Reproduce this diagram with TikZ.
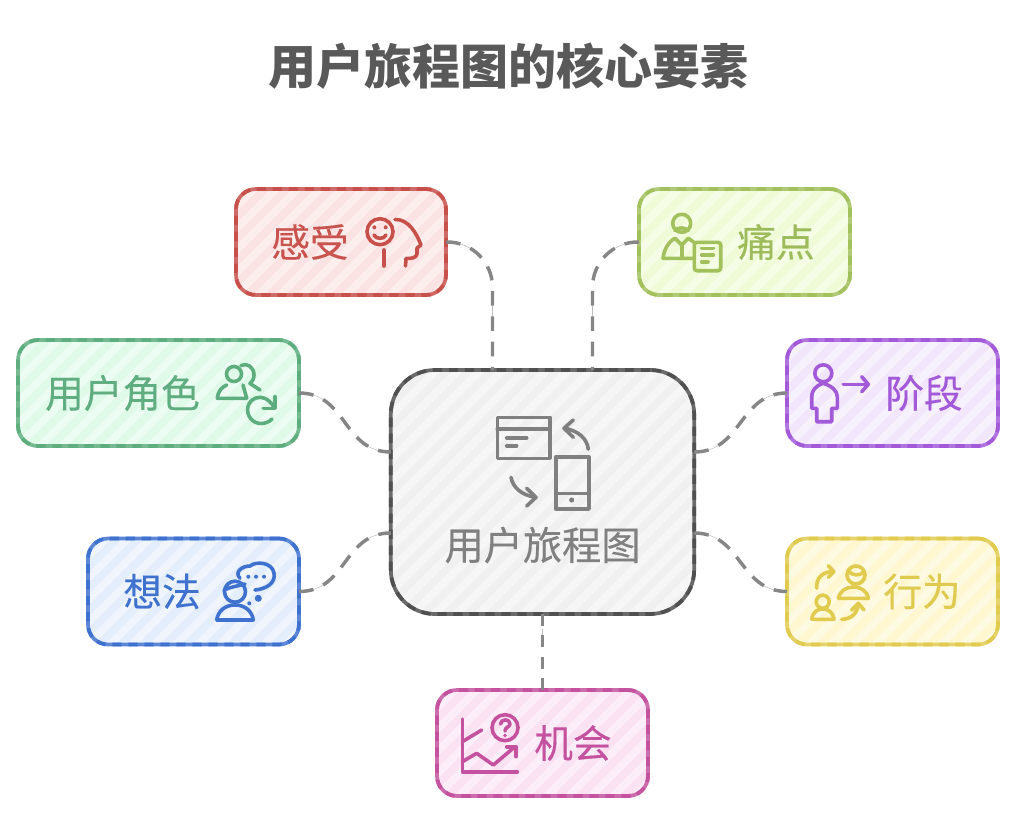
\documentclass[tikz,border=0pt]{standalone}
\usepackage{fontspec}
\newfontfamily\cjk{Noto Sans CJK SC}
\newfontfamily\cjkmid[FakeBold=0.3]{Noto Sans CJK SC}
\usetikzlibrary{calc}
\definecolor{feelLine}{HTML}{C8504B}\definecolor{feelFill}{HTML}{FBE3E3}\definecolor{feelText}{HTML}{C9534E}
\definecolor{painLine}{HTML}{A2C05C}\definecolor{painFill}{HTML}{EFFBD6}\definecolor{painText}{HTML}{9DBB5A}
\definecolor{roleLine}{HTML}{5DAD7E}\definecolor{roleFill}{HTML}{E0FAEA}\definecolor{roleText}{HTML}{5FAD80}
\definecolor{stepLine}{HTML}{A25AD9}\definecolor{stepFill}{HTML}{F2E6FC}\definecolor{stepText}{HTML}{A25AD9}
\definecolor{ideaLine}{HTML}{3F72CF}\definecolor{ideaFill}{HTML}{E4EDFC}\definecolor{ideaText}{HTML}{3F72CF}
\definecolor{doneLine}{HTML}{E0CB4F}\definecolor{doneFill}{HTML}{FEF7CF}\definecolor{doneText}{HTML}{DFC94F}
\definecolor{gainLine}{HTML}{C4529F}\definecolor{gainFill}{HTML}{FAE2F3}\definecolor{gainText}{HTML}{C4529F}
\definecolor{hubLine}{HTML}{505050}\definecolor{hubFill}{HTML}{F0F0F0}\definecolor{hubText}{HTML}{808080}
\tikzset{
  card/.style={rounded corners=15pt, minimum height=79.5pt, outer sep=0pt, line width=2.8pt,
    preaction={fill=#1Fill, path picture={
      \foreach \k in {-12,...,15} {
        \draw[solid, line width=5.8pt, draw=#1Fill!60!white] (path picture bounding box.south west) ++(\k*16.5pt,0pt) -- ++(200pt,200pt);
      }}},
    preaction={draw=#1Line!85!white, solid},
    draw=#1Line, dash pattern=on 7pt off 5pt},
  cardtext/.style={text=#1Text, inner sep=0pt, font=\cjkmid\fontsize{29}{32}\selectfont},
  ic/.style={draw=#1Line, line width=2.7pt, line cap=round, line join=round},
  link/.style={draw=gray!95, line width=2.6pt, dash pattern=on 11pt off 8pt,
    preaction={draw=lightgray, dash pattern=on 0pt off 11pt on 8pt off 38pt}},
}
\begin{document}
\begin{tikzpicture}[x=0.75pt, y=-0.75pt]
  \useasboundingbox (0,0) rectangle (1024,820);
  \node[inner sep=0pt, text=black!65, font=\cjk\bfseries\fontsize{36}{40}\selectfont] (title) at (508,66) {用户旅程图的核心要素};
  % centre box
  \node[card=hub, minimum width=227.5pt, minimum height=183pt, rounded corners=33pt] (hub) at (542.5,492) {};
  \node[cardtext=hub, font=\cjkmid\fontsize{29.4}{32}\selectfont] (hubtext) at (542.5,545) {用户旅程图};
  % outer boxes
  \foreach \name/\cx/\cy/\w/\lx/\t in {
    feel/341/242/210/310/感受, pain/744.5/242/211/776/痛点,
    role/158.5/393/281/122.5/用户角色, step/892.5/393/211/924/阶段,
    idea/193.5/591.5/211/162/想法, done/892.5/591.5/211/922/行为,
    gain/542.5/743/211/573/机会} {
    \node[card=\name, minimum width=\w*0.75pt] (\name) at (\cx,\cy) {};
    \node[cardtext=\name] (\name text) at (\lx,\cy) {\t};
  }
  % connector ends on the centre box
  \coordinate (hubtopl) at ($(hub.north)+(-50,0)$);
  \coordinate (hubtopr) at ($(hub.north)+(50,0)$);
  \coordinate (hubleftu) at ($(hub.west)+(0,-40)$);
  \coordinate (hubleftd) at ($(hub.west)+(0,41)$);
  \coordinate (hubrightu) at ($(hub.east)+(0,-40)$);
  \coordinate (hubrightd) at ($(hub.east)+(0,41)$);
  % connectors
  \draw[link, rounded corners=34pt] (feel.east) -| (hubtopl);
  \draw[link, rounded corners=34pt] (pain.west) -| (hubtopr);
  \draw[link] (role.east) .. controls +(48,0) and +(-48,0) .. (hubleftu);
  \draw[link] (idea.east) .. controls +(48,0) and +(-48,0) .. (hubleftd);
  \draw[link] (hubrightu) .. controls +(48,0) and +(-48,0) .. (step.west);
  \draw[link] (hubrightd) .. controls +(48,0) and +(-48,0) .. (done.west);
  \draw[link, dash pattern=on 9pt off 7pt] (hub.south) -- (gain.north);
  % centre icon
  \begin{scope}[ic=hub, draw=hubText]
    \draw (497.3,417.3) rectangle (550,458.3);
    \draw (497.3,429) -- (550,429);
    \draw (506.7,437.7) -- (526.7,437.7);
    \draw (506.7,445.7) -- (516.7,445.7);
    \draw (555.7,456.7) rectangle (589,509);
    \draw (555.7,493.3) -- (589,493.3);
    \fill[hubText] (571.7,500) circle (2.6);
    \draw (588.3,449.3) .. controls (587,438) and (578,431) .. (565,428.3);
    \draw (573.3,420) -- (564,428.3) -- (573.3,437.3);
    \draw (511,477.3) .. controls (513,488) and (522,495) .. (535,497.3);
    \draw (526.7,488.3) -- (536,497.3) -- (526.7,506);
  \end{scope}
  % feel icon
  \begin{scope}[ic=feel]
    \draw (380,231.7) circle (13);
    \fill[feelLine] (374.3,227.3) circle (2) (385.7,227.3) circle (2);
    \draw (374,235) .. controls (376,239.5) and (384,239.5) .. (386,235);
    \draw (384,250) -- (384,266);
    \draw (395,219.5) .. controls (408,219) and (416,232) .. (421,245) -- (417,248) -- (417,254) .. controls (416,258) and (412,258.5) .. (406,258.5) -- (405.5,266);
  \end{scope}
  % pain icon
  \begin{scope}[ic=pain]
    \draw (681.7,223.3) circle (9);
    \draw (675,230.7) .. controls (677,227) and (686,227) .. (688,230.7);
    \draw (693,258.3) -- (663,258.3) .. controls (664,250) and (668,242) .. (675,238.3) -- (681.7,245) -- (688.3,238.3) -- (695,243);
    \draw (681.7,245) -- (681.7,258.3);
    \draw[rounded corners=2pt] (694.3,242.3) rectangle (720.7,270.7);
    \draw (701.7,248.3) -- (713.3,248.3) (701.7,255) -- (713.3,255) (701.7,261.7) -- (708,261.7);
  \end{scope}
  % role icon
  \begin{scope}[ic=role]
    \draw (234,374) circle (7.5);
    \draw (241,365.5) .. controls (247,362.5) and (254,367) .. (254,375) .. controls (254,379) and (252,382) .. (250,383.5) -- (260,390);
    \draw (246.7,398.3) -- (217.3,398.3) .. controls (218,391) and (222,387) .. (226.7,385) (243,385) -- (246.7,398.3);
    \draw (272,419) .. controls (266,425) and (256,425) .. (251,419) .. controls (245,412) and (247,401) .. (256,398) .. controls (262,396) and (268,398) .. (274,407);
    \draw (275,396.7) -- (275,408.3) -- (263.3,408.3);
  \end{scope}
  % step icon
  \begin{scope}[ic=step]
    \draw (823.3,373.3) circle (8.5);
    \draw (823.3,383.3) .. controls (815,386) and (811.7,391) .. (811.7,396.7) -- (811.7,408.3) -- (816.7,408.3) -- (816.7,421.7) -- (831.7,421.7) -- (831.7,408.3) -- (837.3,408.3) -- (837.3,396.7) .. controls (837.3,391) and (832,386) .. (823.3,383.3);
    \draw (843.3,384.3) -- (868.3,384.3);
    \draw (861.7,376.7) -- (868.3,384.3) -- (861.7,391.7);
  \end{scope}
  % idea icon
  \begin{scope}[ic=idea]
    \draw (235,591.7) circle (10.5);
    \draw (224,590) .. controls (230,587) and (238,586) .. (245,584);
    \draw (216.7,620) -- (253.3,620) .. controls (252,611) and (245,605) .. (235,605) .. controls (225,605) and (218,611) .. (216.7,620);
    \draw (240,578.3) .. controls (234,572) and (242,566) .. (250,566) .. controls (256,561) and (272,562) .. (274,573) .. controls (276,584) and (265,589) .. (255,590);
    \fill[ideaLine] (248.3,576.7) circle (2) (256,576.7) circle (2) (264,576.7) circle (2);
    \fill[ideaLine] (258.3,598.3) circle (3.5) (249.3,603.3) circle (2);
  \end{scope}
  % done icon
  \begin{scope}[ic=done]
    \draw (856,575) circle (9);
    \draw (848,571) .. controls (853,576) and (859,576) .. (864,572);
    \draw (838.3,598.3) -- (868.3,598.3) .. controls (867,591) and (861,587) .. (853.3,587) .. controls (846,587) and (840,591) .. (838.3,598.3);
    \draw (822.7,601.7) circle (6.5);
    \draw (811.7,619.3) -- (834,619.3) .. controls (833,612) and (828,609) .. (822.7,609) .. controls (817,609) and (813,612) .. (811.7,619.3);
    \draw (816.7,588.3) .. controls (816,578) and (822,572) .. (833,571.5);
    \draw (828.3,565.7) -- (834,571.7) -- (828.3,577.3);
    \draw (841.7,619.3) .. controls (851,619) and (857,614) .. (858.3,605);
    \draw (851.7,610) -- (858.3,603.3) -- (864,610);
  \end{scope}
  % gain icon
  \begin{scope}[ic=gain]
    \draw (462.3,719) -- (462.3,771.7) -- (517.3,771.7);
    \draw (462.3,741.7) -- (481.7,730);
    \draw (462.3,761.7) -- (476.7,753.3) -- (493.3,765) -- (515,746.7);
    \draw (506.7,746.7) -- (516,746.7) -- (516,756.7);
    \draw (505,727.7) circle (13);
    \draw (500.5,724) .. controls (501,718.5) and (510,718.5) .. (510,724) .. controls (510,727) and (505,727) .. (505,731);
    \fill[gainLine] (505,735.5) circle (1.8);
  \end{scope}
\end{tikzpicture}
\end{document}
